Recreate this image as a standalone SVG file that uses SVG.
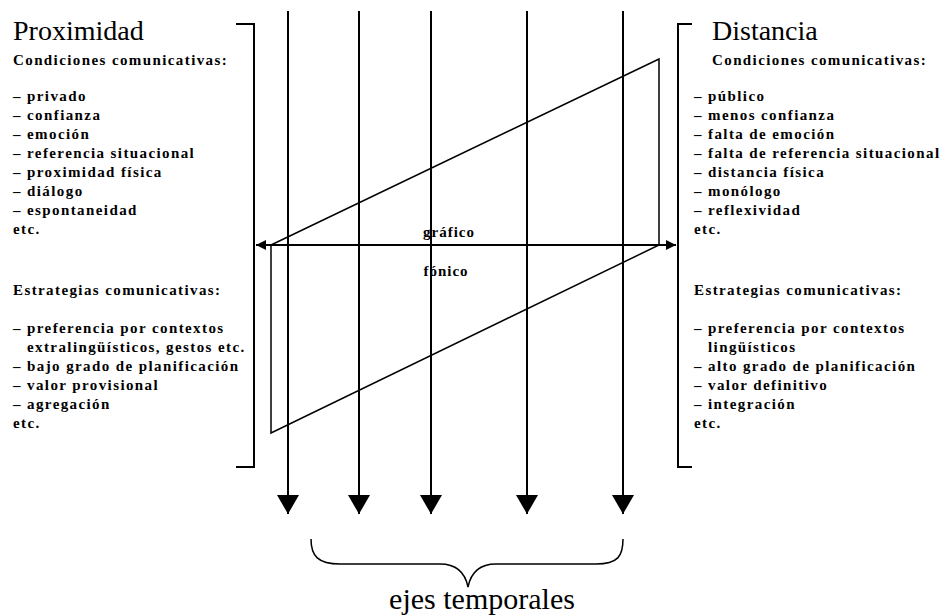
<svg xmlns="http://www.w3.org/2000/svg" width="947" height="616" viewBox="0 0 947 616">
<defs>
<style>
.h{font-family:"Liberation Serif","DejaVu Serif",serif;font-size:28px;fill:#000}
.s{font-family:"Liberation Serif","DejaVu Serif",serif;font-size:15px;font-weight:bold;letter-spacing:1.4px;fill:#000}
.lbl{font-family:"Liberation Serif","DejaVu Serif",serif;font-size:15px;font-weight:bold;letter-spacing:1px;fill:#000;text-anchor:middle}
.big{font-family:"Liberation Serif","DejaVu Serif",serif;font-size:30px;fill:#000;text-anchor:middle}
.ln{stroke:#000;stroke-width:2;fill:none}
.thin{stroke:#000;stroke-width:1.5;fill:none}
</style>
<marker id="down" viewBox="0 0 19 22" refX="19" refY="11" markerWidth="19" markerHeight="22" markerUnits="userSpaceOnUse" orient="auto">
<path d="M0,0 L19,11 L0,22 Z" fill="#000"/>
</marker>
<marker id="tip" viewBox="0 0 10 10" refX="10" refY="5" markerWidth="10" markerHeight="10" markerUnits="userSpaceOnUse" orient="auto-start-reverse">
<path d="M0,0 L10,5 L0,10 Z" fill="#000"/>
</marker>
</defs>
<rect width="947" height="616" fill="#fff"/>

<g id="proximidad">
<path class="ln" d="M236,24 H254 V467 H236"/>
<text class="h" x="13" y="40">Proximidad</text>
<text class="s" x="13" y="65">Condiciones comunicativas:</text>
<text class="s" x="13" y="101">– privado</text>
<text class="s" x="13" y="120">– confianza</text>
<text class="s" x="13" y="139">– emoción</text>
<text class="s" x="13" y="158">– referencia situacional</text>
<text class="s" x="13" y="177">– proximidad física</text>
<text class="s" x="13" y="196">– diálogo</text>
<text class="s" x="13" y="215">– espontaneidad</text>
<text class="s" x="13" y="234">etc.</text>
<text class="s" x="13" y="295">Estrategias comunicativas:</text>
<text class="s" x="13" y="333">– preferencia por contextos</text>
<text class="s" x="27" y="352">extralingüísticos, gestos etc.</text>
<text class="s" x="13" y="371">– bajo grado de planificación</text>
<text class="s" x="13" y="390">– valor provisional</text>
<text class="s" x="13" y="409">– agregación</text>
<text class="s" x="13" y="428">etc.</text>
</g>

<g id="distancia">
<path class="ln" d="M692,24 H678 V467 H692"/>
<text class="h" x="712" y="40">Distancia</text>
<text class="s" x="712" y="65">Condiciones comunicativas:</text>
<text class="s" x="694" y="101">– público</text>
<text class="s" x="694" y="120">– menos confianza</text>
<text class="s" x="694" y="139">– falta de emoción</text>
<text class="s" x="694" y="158">– falta de referencia situacional</text>
<text class="s" x="694" y="177">– distancia física</text>
<text class="s" x="694" y="196">– monólogo</text>
<text class="s" x="694" y="215">– reflexividad</text>
<text class="s" x="694" y="234">etc.</text>
<text class="s" x="694" y="295">Estrategias comunicativas:</text>
<text class="s" x="694" y="333">– preferencia por contextos</text>
<text class="s" x="708" y="352">lingüísticos</text>
<text class="s" x="694" y="371">– alto grado de planificación</text>
<text class="s" x="694" y="390">– valor definitivo</text>
<text class="s" x="694" y="409">– integración</text>
<text class="s" x="694" y="428">etc.</text>
</g>

<g id="medio">
<path class="thin" d="M271,245 L659,59 V245 L271,433 Z"/>
<text class="lbl" x="449" y="237">gráfico</text>
<text class="lbl" x="446" y="276">fónico</text>
</g>

<g id="connectors">
<line class="ln" x1="256" y1="245" x2="676" y2="245" marker-start="url(#tip)" marker-end="url(#tip)"/>
<line class="ln" x1="288" y1="11" x2="288" y2="514" marker-end="url(#down)"/>
<line class="ln" x1="359" y1="11" x2="359" y2="514" marker-end="url(#down)"/>
<line class="ln" x1="431" y1="11" x2="431" y2="514" marker-end="url(#down)"/>
<line class="ln" x1="527" y1="11" x2="527" y2="514" marker-end="url(#down)"/>
<line class="ln" x1="623" y1="11" x2="623" y2="514" marker-end="url(#down)"/>
</g>

<g id="ejes">
<path class="thin" d="M311,539 C311,556 318,564 340,564 L440,564 C455,564 465,572 468,587 C471,572 481,564 496,564 L596,564 C618,564 623,556 623,539"/>
<text class="big" x="482" y="609">ejes temporales</text>
</g>
</svg>
